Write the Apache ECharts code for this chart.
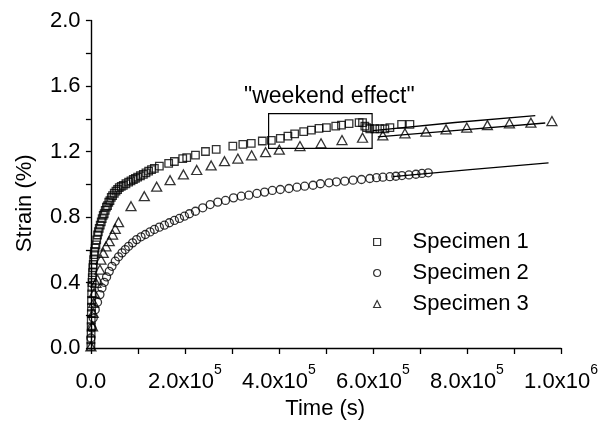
<!DOCTYPE html>
<html>
<head>
<meta charset="utf-8">
<script src="https://cdn.jsdelivr.net/npm/echarts@6/dist/echarts.min.js"></script>
<style>
  html, body { margin: 0; padding: 0; background: #fff; }
  #chart { width: 616px; height: 425px; }
</style>
</head>
<body>
<div id="chart"></div>
<script>
// Creep strain vs. time for three specimens, with power-law fit lines.
const seriesNames = ['Specimen 1', 'Specimen 2', 'Specimen 3'];

// [time (s), strain (%)]
const specimen1 = [
  [0, 0.01], [0, 0.05], [400, 0.09], [500, 0.13], [700, 0.17], [900, 0.21], [1100, 0.25],
  [1300, 0.29], [1600, 0.33], [2000, 0.37], [2500, 0.40], [2900, 0.43], [3500, 0.46],
  [4200, 0.49], [4900, 0.51], [5800, 0.54], [6800, 0.57], [7700, 0.59], [9000, 0.61],
  [10700, 0.63], [12300, 0.66], [14100, 0.69], [15800, 0.71], [17700, 0.73], [19800, 0.75],
  [22000, 0.77], [24000, 0.79], [26200, 0.81], [28300, 0.82], [30500, 0.84], [33000, 0.86],
  [35400, 0.87], [38000, 0.89], [40500, 0.90], [43300, 0.92], [46100, 0.93], [49700, 0.945],
  [53300, 0.958], [56800, 0.968], [60300, 0.979], [64600, 0.987], [68900, 0.993],
  [74500, 1.003], [80200, 1.013], [85200, 1.021], [90200, 1.029], [94700, 1.036],
  [99400, 1.043], [105400, 1.052], [111500, 1.060], [117100, 1.070], [122800, 1.080],
  [128900, 1.089], [135000, 1.097], [145600, 1.111], [165400, 1.127], [177600, 1.139],
  [195300, 1.156], [203800, 1.162], [222400, 1.178], [243700, 1.200], [266500, 1.213],
  [301900, 1.233], [323200, 1.243], [341100, 1.250], [364600, 1.264], [383800, 1.268],
  [402900, 1.280], [419100, 1.294], [433400, 1.308], [452600, 1.321], [469000, 1.331],
  [485200, 1.341], [501000, 1.346], [520800, 1.355], [533000, 1.361], [549200, 1.370],
  [570500, 1.376], [577800, 1.376], [582700, 1.355], [586300, 1.346], [593300, 1.339],
  [604000, 1.339], [614700, 1.339], [625300, 1.339], [636000, 1.346], [660900, 1.366],
  [678600, 1.366]
];

const specimen2 = [
  [0, 0.061], [2100, 0.122], [4900, 0.183], [9200, 0.234], [14100, 0.279], [19200, 0.326],
  [23500, 0.367], [28400, 0.401], [33300, 0.434], [39000, 0.468], [44800, 0.499],
  [51800, 0.530], [58800, 0.557], [66100, 0.581], [73100, 0.601], [80200, 0.621],
  [88700, 0.642], [97200, 0.662], [106600, 0.679], [115800, 0.693], [125800, 0.709],
  [135000, 0.724], [145600, 0.738], [156300, 0.750], [166900, 0.765], [177600, 0.779],
  [188300, 0.791], [198900, 0.805], [209600, 0.820], [222400, 0.835], [237900, 0.856],
  [253700, 0.876], [269900, 0.891], [286300, 0.901], [303400, 0.917], [319800, 0.927],
  [336000, 0.933], [353100, 0.944], [369500, 0.952], [385900, 0.962], [402900, 0.968],
  [421300, 0.974], [438300, 0.982], [454800, 0.988], [472500, 0.994], [488200, 1.003],
  [506600, 1.009], [522300, 1.015], [540000, 1.019], [557700, 1.025], [575600, 1.029],
  [593300, 1.035], [607600, 1.040], [621100, 1.043], [636000, 1.046], [648800, 1.049],
  [661600, 1.053], [676500, 1.057], [691400, 1.061], [704200, 1.066], [717600, 1.070]
];

const specimen3 = [
  [0, 0.01], [3400, 0.132], [4900, 0.214], [5900, 0.275], [7000, 0.336], [10700, 0.398],
  [14100, 0.418], [19200, 0.479], [21300, 0.540], [26200, 0.581], [32000, 0.621],
  [39000, 0.652], [46100, 0.693], [51800, 0.728], [58800, 0.768], [85300, 0.866],
  [113600, 0.927], [139900, 0.985], [168400, 1.025], [196800, 1.060], [225100, 1.087],
  [255800, 1.115], [284200, 1.141], [312600, 1.157], [341800, 1.177], [371600, 1.196],
  [400800, 1.211], [444700, 1.233], [489500, 1.250], [534100, 1.270], [577800, 1.284],
  [621000, 1.298], [668000, 1.311], [712700, 1.321], [755400, 1.335], [799500, 1.346],
  [843400, 1.361], [890300, 1.372], [936000, 1.376], [980700, 1.386]
];

// Fitted curves after the interruption
const fit1 = [[599800, 1.328], [774600, 1.377], [945300, 1.419]];
const fit2 = [[642400, 1.047], [806500, 1.089], [973500, 1.131]];
const fit3 = [[610400, 1.289], [785300, 1.330], [966500, 1.374]];

// Interval outlined as the "weekend effect": [time start, time end], [strain low, strain high]
const weekendTime = [378000, 598200];
const weekendStrain = [1.219, 1.431];
const weekendLabel = '"weekend effect"';

// Axis ticks and labels
const xTickValues = [0, 100000, 200000, 300000, 400000, 500000, 600000, 700000, 800000, 900000, 1000000];
const xLabelValues = [0, 200000, 400000, 600000, 800000, 1000000];
const xLabelMantissa = ['0.0', '2.0x10', '4.0x10', '6.0x10', '8.0x10', '1.0x10'];
const xLabelExponent = ['', '5', '5', '5', '5', '6'];
const yLabels = ['0.0', '0.4', '0.8', '1.2', '1.6', '2.0'];

const FONT = '"Liberation Sans", Arial, Helvetica, sans-serif';
const hollow = { color: 'rgba(0,0,0,0)', borderColor: '#000', borderWidth: 1.3 };

const chart = echarts.init(document.getElementById('chart'), null, { renderer: 'canvas' });

function scatter(name, data, symbol, size) {
  return {
    name: name, type: 'scatter', data: data, symbol: symbol, symbolSize: size,
    itemStyle: hollow, z: 3, silent: true
  };
}
function fitLine(data) {
  return {
    type: 'line', data: data, showSymbol: false, smooth: true, silent: true,
    lineStyle: { color: '#000', width: 1.3 }, z: 2
  };
}

const s1 = scatter(seriesNames[0], specimen1, 'rect', 7.5);
s1.markArea = {
  silent: true,
  itemStyle: { color: 'rgba(0,0,0,0)', borderColor: '#000', borderWidth: 1.2 },
  label: {
    show: true, position: 'top', distance: 5, offset: [9, 0],
    formatter: weekendLabel, color: '#000', fontSize: 23, fontFamily: FONT
  },
  data: [[
    { xAxis: weekendTime[0], yAxis: weekendStrain[1] },
    { xAxis: weekendTime[1], yAxis: weekendStrain[0] }
  ]]
};

chart.setOption({
  animation: false,
  backgroundColor: '#fff',
  grid: { left: 89.5, right: 55, top: 20.5, bottom: 76.7, containLabel: false },
  legend: {
    data: seriesNames,
    orient: 'vertical',
    left: 368, top: 226,
    itemWidth: 7, itemHeight: 7, itemGap: 9,
    itemStyle: { color: 'rgba(0,0,0,0)', borderColor: '#000', borderWidth: 1.2 },
    textStyle: { fontSize: 22, fontFamily: FONT, color: '#000', padding: [0, 0, 0, 27], lineHeight: 22 },
    selectedMode: false
  },
  xAxis: {
    type: 'value', min: -3000, max: 1000000,
    name: 'Time (s)', nameLocation: 'middle', nameGap: 50,
    nameTextStyle: { fontSize: 22, fontFamily: FONT, color: '#000' },
    axisLine: { lineStyle: { color: '#000', width: 1.4 } },
    axisTick: { customValues: xTickValues, length: 6, lineStyle: { color: '#000', width: 1.3 } },
    axisLabel: {
      customValues: xLabelValues, margin: 15, color: '#000',
      formatter: function (v) {
        const i = xLabelValues.indexOf(v);
        if (i < 0) return '';
        return '{a|' + xLabelMantissa[i] + '}' + (xLabelExponent[i] ? '{s|' + xLabelExponent[i] + '}' : '');
      },
      rich: {
        a: { fontSize: 22, fontFamily: FONT, color: '#000', lineHeight: 30, verticalAlign: 'bottom' },
        s: { fontSize: 14, fontFamily: FONT, color: '#000', lineHeight: 14, verticalAlign: 'top' }
      }
    },
    splitLine: { show: false }
  },
  yAxis: {
    type: 'value', min: 0, max: 2, interval: 0.4,
    name: 'Strain (%)', nameLocation: 'middle', nameGap: 54,
    nameTextStyle: { fontSize: 22, fontFamily: FONT, color: '#000', padding: [0, 38, 0, 0] },
    axisLine: { lineStyle: { color: '#000', width: 1.4 } },
    axisTick: { length: 5, lineStyle: { color: '#000', width: 1.3 } },
    minorTick: { show: true, splitNumber: 2, length: 5, lineStyle: { color: '#000', width: 1.3 } },
    axisLabel: {
      margin: 9, color: '#000', fontSize: 22, fontFamily: FONT,
      formatter: function (v) { return yLabels[Math.round(v / 0.4)]; }
    },
    splitLine: { show: false }
  },
  series: [
    s1,
    scatter(seriesNames[1], specimen2, 'circle', 8),
    scatter(seriesNames[2], specimen3, 'triangle', [10, 9]),
    fitLine(fit1),
    fitLine(fit2),
    fitLine(fit3)
  ]
});
</script>
</body>
</html>
